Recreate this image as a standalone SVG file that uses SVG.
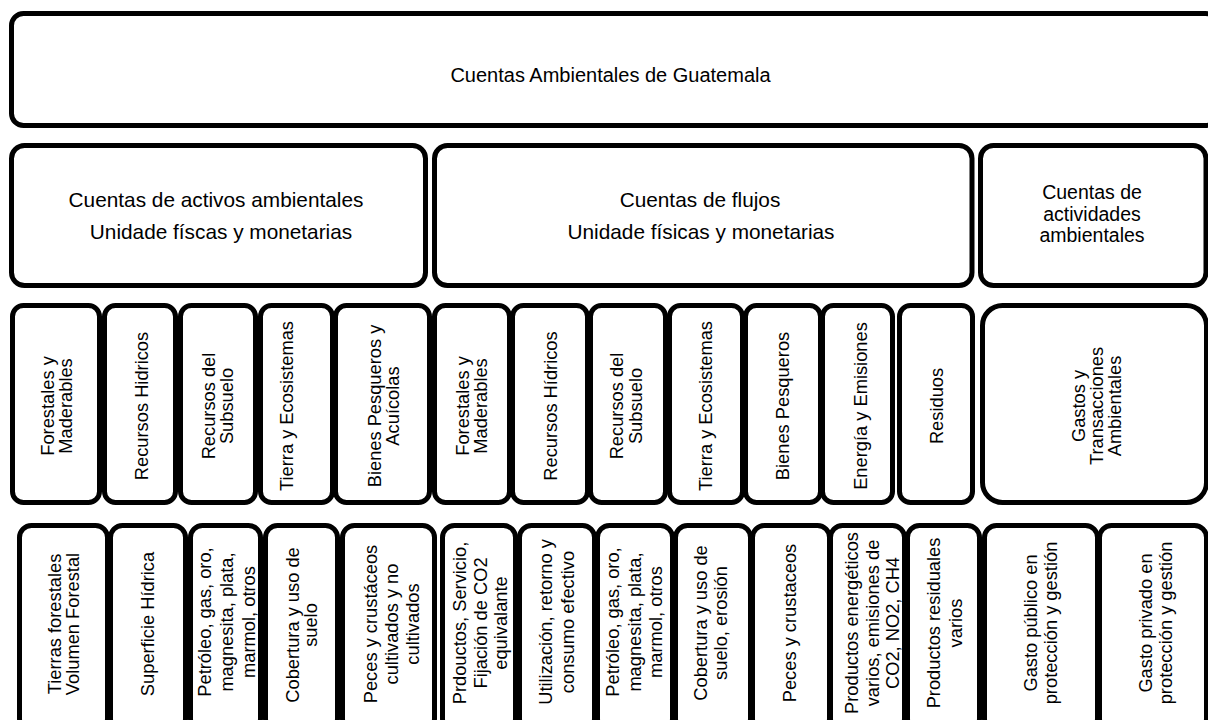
<svg xmlns="http://www.w3.org/2000/svg" width="1208" height="720" viewBox="0 0 1208 720">
<style>
rect{fill:#fff;stroke:#000;stroke-width:5}
text{font-family:"Liberation Sans",Arial,sans-serif;fill:#000;text-anchor:middle}
.t{font-size:20px}
.h{font-size:20.8px}
.c{font-size:19.5px}
.v{font-size:18.3px}
</style>
<rect x="0" y="0" width="1208" height="720" style="stroke:none"/>
<g id="n-root"><rect x="11.5" y="13.5" width="1206" height="112" rx="12"/><text class="t" x="610.5" y="82">Cuentas Ambientales de Guatemala</text></g>
<g id="n-activos"><rect x="11.5" y="145.5" width="414" height="140" rx="13"/><text class="h" x="216" y="207">Cuentas de activos ambientales</text><text class="h" x="221" y="238.5">Unidade físcas y monetarias</text></g>
<g id="n-flujos"><rect x="434.5" y="145.5" width="537.5" height="140" rx="13"/><text class="h" x="700" y="207">Cuentas de flujos</text><text class="h" x="701" y="238.5">Unidade físicas y monetarias</text></g>
<g id="n-actividades"><rect x="980.5" y="145.5" width="225.5" height="140" rx="13"/><text class="c" x="1092" y="199">Cuentas de</text><text class="c" x="1092" y="220.5">actividades</text><text class="c" x="1092" y="242">ambientales</text></g>

<g id="r3-1"><rect x="12.5" y="305.5" width="87" height="197" rx="11"/><text class="v" transform="translate(56,406) rotate(-90)"><tspan x="0" y="-2.5">Forestales y</tspan><tspan x="0" y="15.8">Maderables</tspan></text></g>
<g id="r3-2"><rect x="104.5" y="305.5" width="71" height="197" rx="11"/><text class="v" transform="translate(141.7,406) rotate(-90)"><tspan x="0" y="6.5">Recursos Hidricos</tspan></text></g>
<g id="r3-3"><rect x="180.5" y="305.5" width="75" height="197" rx="11"/><text class="v" transform="translate(217.5,406) rotate(-90)"><tspan x="0" y="-3">Recursos del</tspan><tspan x="0" y="15.5">Subsuelo</tspan></text></g>
<g id="r3-4"><rect x="260.5" y="305.5" width="72" height="197" rx="11"/><text class="v" transform="translate(286,406) rotate(-90)"><tspan x="0" y="6.5">Tierra y Ecosistemas</tspan></text></g>
<g id="r3-5"><rect x="335.5" y="305.5" width="94" height="197" rx="11"/><text class="v" transform="translate(383,406) rotate(-90)"><tspan x="0" y="-2.5">Bienes Pesqueros y</tspan><tspan x="0" y="15.8">Acuícolas</tspan></text></g>
<g id="r3-6"><rect x="434.5" y="305.5" width="75" height="197" rx="11"/><text class="v" transform="translate(471.5,406) rotate(-90)"><tspan x="0" y="-2.5">Forestales y</tspan><tspan x="0" y="15.8">Maderables</tspan></text></g>
<g id="r3-7"><rect x="512.5" y="305.5" width="75" height="197" rx="11"/><text class="v" transform="translate(550,406) rotate(-90)"><tspan x="0" y="6.5">Recursos Hídricos</tspan></text></g>
<g id="r3-8"><rect x="590.5" y="305.5" width="75" height="197" rx="11"/><text class="v" transform="translate(626,406) rotate(-90)"><tspan x="0" y="-3">Recursos del</tspan><tspan x="0" y="15.5">Subsuelo</tspan></text></g>
<g id="r3-9"><rect x="669.5" y="305.5" width="73" height="197" rx="11"/><text class="v" transform="translate(705,406) rotate(-90)"><tspan x="0" y="6.5">Tierra y Ecosistemas</tspan></text></g>
<g id="r3-10"><rect x="745.5" y="305.5" width="75" height="197" rx="11"/><text class="v" transform="translate(782.5,406) rotate(-90)"><tspan x="0" y="6.5">Bienes Pesqueros</tspan></text></g>
<g id="r3-11"><rect x="822.5" y="305.5" width="70" height="197" rx="11"/><text class="v" transform="translate(860.5,406) rotate(-90)"><tspan x="0" y="6.5">Energía y Emisiones</tspan></text></g>
<g id="r3-12"><rect x="899.5" y="305.5" width="73" height="197" rx="11"/><text class="v" transform="translate(936.5,406) rotate(-90)"><tspan x="0" y="6.5">Residuos</tspan></text></g>
<g id="r3-13"><rect x="982.5" y="305.5" width="224" height="197" rx="20"/><text class="v" transform="translate(1096.5,406) rotate(-90)"><tspan x="0" y="-11.8">Gastos y</tspan><tspan x="0" y="6.5">Transacciones</tspan><tspan x="0" y="24.8">Ambientales</tspan></text></g>

<g id="r4-1"><rect x="19.5" y="525.5" width="88" height="205" rx="12"/><text class="v" transform="translate(63.5,624) rotate(-90)"><tspan x="0" y="-2.5">Tierras forestales</tspan><tspan x="0" y="15.5">Volumen Forestal</tspan></text></g>
<g id="r4-2"><rect x="110.5" y="525.5" width="75" height="205" rx="12"/><text class="v" transform="translate(147.5,624) rotate(-90)"><tspan x="0" y="6.5">Superficie Hídrica</tspan></text></g>
<g id="r4-3"><rect x="190.5" y="525.5" width="70" height="205" rx="12"/><text class="v" transform="translate(226.5,622) rotate(-90)"><tspan x="0" y="-15.3">Petróleo, gas, oro,</tspan><tspan x="0" y="6.5">magnesita, plata,</tspan><tspan x="0" y="28">marmol, otros</tspan></text></g>
<g id="r4-4"><rect x="265.5" y="525.5" width="72" height="205" rx="12"/><text class="v" transform="translate(301.5,625) rotate(-90)"><tspan x="0" y="-2.3">Cobertura y uso de</tspan><tspan x="0" y="15.3">suelo</tspan></text></g>
<g id="r4-5"><rect x="342.5" y="525.5" width="92" height="205" rx="12"/><text class="v" transform="translate(391,624) rotate(-90)"><tspan x="0" y="-14.5">Peces y crustáceos</tspan><tspan x="0" y="6.5">cultivados y no</tspan><tspan x="0" y="27.5">cultivados</tspan></text></g>
<g id="r4-6"><rect x="442.5" y="525.5" width="73" height="205" rx="12"/><text class="v" transform="translate(480,623) rotate(-90)"><tspan x="0" y="-14.5">Prdouctos, Servicio,</tspan><tspan x="0" y="6.5">Fijación de CO2</tspan><tspan x="0" y="26.5">equivalante</tspan></text></g>
<g id="r4-7"><rect x="519.5" y="525.5" width="75" height="205" rx="12"/><text class="v" transform="translate(556.5,622) rotate(-90)"><tspan x="0" y="-4.5">Utilización, retorno y</tspan><tspan x="0" y="17.5">consumo efectivo</tspan></text></g>
<g id="r4-8"><rect x="597.5" y="525.5" width="75" height="205" rx="12"/><text class="v" transform="translate(634,622) rotate(-90)"><tspan x="0" y="-15.5">Petróleo, gas, oro,</tspan><tspan x="0" y="6.5">magnesita, plata,</tspan><tspan x="0" y="28">marmol, otros</tspan></text></g>
<g id="r4-9"><rect x="675.5" y="525.5" width="75" height="205" rx="12"/><text class="v" transform="translate(710.5,623) rotate(-90)"><tspan x="0" y="-3.5">Cobertura y uso de</tspan><tspan x="0" y="16.5">suelo, erosión</tspan></text></g>
<g id="r4-10"><rect x="752.5" y="525.5" width="77" height="205" rx="12"/><text class="v" transform="translate(789.5,623) rotate(-90)"><tspan x="0" y="6.5">Peces y crustaceos</tspan></text></g>
<g id="r4-11"><rect x="830.5" y="525.5" width="74" height="205" rx="12"/><text class="v" transform="translate(872,623) rotate(-90)"><tspan x="0" y="-14">Productos energéticos</tspan><tspan x="0" y="6.5">varios, emisiones de</tspan><tspan x="0" y="27">CO2, NO2, CH4</tspan></text></g>
<g id="r4-12"><rect x="907.5" y="525.5" width="72" height="205" rx="12"/><text class="v" transform="translate(943.5,623) rotate(-90)"><tspan x="0" y="-4">Productos residuales</tspan><tspan x="0" y="18">varios</tspan></text></g>
<g id="r4-13"><rect x="984.5" y="525.5" width="113" height="205" rx="12"/><text class="v" transform="translate(1040,623) rotate(-90)"><tspan x="0" y="-3.5">Gasto público en</tspan><tspan x="0" y="16.5">protección y gestión</tspan></text></g>
<g id="r4-14"><rect x="1099.5" y="525.5" width="107" height="205" rx="12"/><text class="v" transform="translate(1155,623) rotate(-90)"><tspan x="0" y="-3.5">Gasto privado en</tspan><tspan x="0" y="16.5">protección y gestión</tspan></text></g>
<g id="connectors"/>
</svg>
